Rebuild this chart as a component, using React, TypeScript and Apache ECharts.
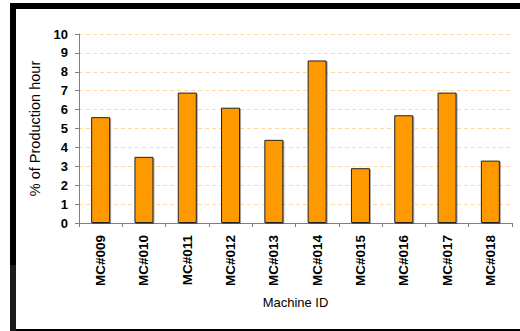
import React, { useEffect, useRef } from "react";
import * as echarts from "echarts";

const categories = ["MC#009", "MC#010", "MC#011", "MC#012", "MC#013", "MC#014", "MC#015", "MC#016", "MC#017", "MC#018"];
const values = [5.6, 3.5, 6.9, 6.1, 4.4, 8.6, 2.9, 5.7, 6.9, 3.3];
const yTicks = [0, 1, 2, 3, 4, 5, 6, 7, 8, 9, 10];

export default function App() {
  const ref = useRef<HTMLDivElement>(null);
  useEffect(() => {
    if (!ref.current) return;
    const chart = echarts.init(ref.current, null, { renderer: "svg" });
    const font = "Arial, 'Liberation Sans', sans-serif";
    chart.setOption({
      animation: false,
      backgroundColor: "#ffffff",
      textStyle: { fontFamily: font },
      grid: { left: 79, right: 8, top: 34, bottom: 108, containLabel: false },
      graphic: [
        { type: "rect", shape: { x: 10, y: 3, width: 510, height: 6 }, style: { fill: "#000" } },
        { type: "rect", shape: { x: 10, y: 3, width: 6, height: 328 }, style: { fill: "#000" } },
        { type: "rect", shape: { x: 10, y: 265, width: 6, height: 66 }, style: { fill: "#1c1c1c" } },
        { type: "rect", shape: { x: 16, y: 329, width: 504, height: 2 }, style: { fill: "#000" } },
      ],
      xAxis: {
        type: "category",
        data: categories,
        name: "Machine ID",
        nameLocation: "middle",
        nameGap: 73,
        nameTextStyle: { fontSize: 13, color: "#000", fontFamily: font },
        axisLine: { lineStyle: { color: "#808080", width: 1 } },
        axisTick: { show: true, interval: 0, length: 4, lineStyle: { color: "#808080" } },
        axisLabel: { rotate: 90, interval: 0, margin: 12, fontSize: 13.5, fontWeight: "bold", color: "#000", fontFamily: font },
        splitLine: { show: false },
      },
      yAxis: {
        type: "value",
        min: yTicks[0],
        max: yTicks[yTicks.length - 1],
        interval: 1,
        name: "% of Production hour",
        nameLocation: "middle",
        nameGap: 33,
        nameTextStyle: { fontSize: 14.5, color: "#000", fontFamily: font },
        axisLine: { show: true, lineStyle: { color: "#808080", width: 1 } },
        axisTick: { show: true, length: 4, lineStyle: { color: "#808080" } },
        axisLabel: { margin: 11, fontSize: 13, fontWeight: "bold", color: "#000", fontFamily: font },
        splitLine: { show: true, lineStyle: { color: "#FFD9A0", width: 1, type: [4, 3] } },
      },
      series: [
        {
          type: "bar",
          data: values,
          barWidth: 19,
          itemStyle: {
            color: "#FF9900",
            borderColor: "#222",
            borderWidth: 1,
            shadowColor: "rgba(0,0,0,0.35)",
            shadowOffsetX: 1,
            shadowOffsetY: 1,
            shadowBlur: 1,
          },
        },
      ],
    });
    return () => chart.dispose();
  }, []);
  return <div ref={ref} style={{ position: "absolute", left: 0, top: 0, width: 520, height: 331 }} />;
}
